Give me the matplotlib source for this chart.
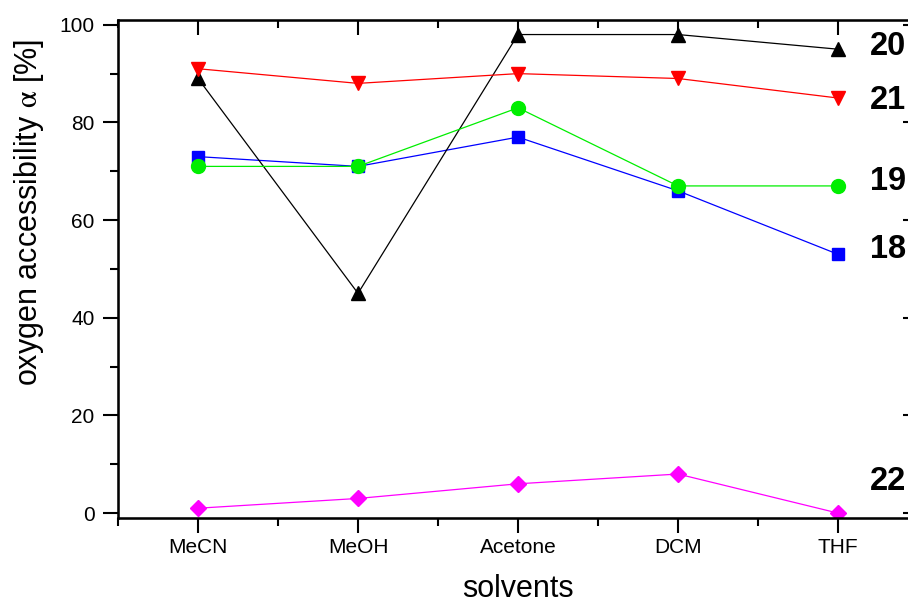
import matplotlib
matplotlib.use("Agg")
import matplotlib.pyplot as plt
from matplotlib.ticker import MultipleLocator

plt.rcParams['font.family'] = ['Liberation Sans', 'DejaVu Sans']
plt.rcParams['mathtext.fontset'] = 'stix'

# -----------------------------
# Data
# -----------------------------
solvents = ["MeCN", "MeOH", "Acetone", "DCM", "THF"]
s18 = [73, 71, 77, 66, 53]
s19 = [71, 71, 83, 67, 67]
s20 = [89, 45, 98, 98, 95]
s21 = [91, 88, 90, 89, 85]
s22 = [1, 3, 6, 8, 0]
names = ["18", "20", "19", "21", "22"]
label_y = [54, 95.5, 68, 84.5, 6.5]

x = list(range(1, len(solvents) + 1))

# -----------------------------
# Plot
# -----------------------------
fig = plt.figure(figsize=(9.08, 6.03), dpi=100)
ax = fig.add_axes([0.130, 0.141, 0.881, 0.826])

series = [
    (s18, "blue", "s", 9),
    (s20, "black", "^", 10),
    (s19, "#00ee00", "o", 10),
    (s21, "red", "v", 10),
    (s22, "magenta", "D", 8),
]
for vals, col, mk, ms in series:
    ax.plot(x, vals, color=col, lw=0.9, marker=mk, ms=ms, mec=col, mfc=col)

for name, yv in zip(names, label_y):
    ax.text(5.2, yv, name, fontsize=23.5, fontweight="bold", va="center", ha="left")

ax.set_xlim(0.5, 5.5)
ax.set_ylim(-1, 101)
ax.set_xticks(x)
ax.set_xticklabels(solvents, fontsize=15)
ax.xaxis.set_minor_locator(MultipleLocator(0.5))
ax.yaxis.set_major_locator(MultipleLocator(20))
ax.yaxis.set_minor_locator(MultipleLocator(10))
ax.tick_params(axis="y", labelsize=15, pad=6)

ax.tick_params(which="major", length=11, width=1.5)
ax.tick_params(which="minor", length=6, width=1.5)
ax.tick_params(axis="x", which="both", direction="out", bottom=True, top=False)
ax.tick_params(axis="y", which="both", direction="out", left=True, right=False)

for sp in ax.spines.values():
    sp.set_linewidth(1.8)

# inward ticks on top and right
axt = ax.twiny()
axt.set_xlim(ax.get_xlim())
axt.set_xticks(x)
axt.xaxis.set_minor_locator(MultipleLocator(0.5))
axt.tick_params(axis="x", which="both", direction="in", labeltop=False, width=1.5)
axt.tick_params(axis="x", which="major", length=11)
axt.tick_params(axis="x", which="minor", length=6)
axr = ax.twinx()
axr.set_ylim(ax.get_ylim())
axr.yaxis.set_major_locator(MultipleLocator(20))
axr.yaxis.set_minor_locator(MultipleLocator(10))
axr.tick_params(axis="y", which="both", direction="in", labelright=False, width=1.5)
axr.tick_params(axis="y", which="major", length=11)
axr.tick_params(axis="y", which="minor", length=6)

ax.set_xlabel("solvents", fontsize=22, labelpad=12)
ax.set_ylabel(r"oxygen accessibility $\mathrm{\alpha}$ [%]", fontsize=22)
ax.yaxis.set_label_coords(-0.09, 0.614)

fig.savefig("out.png", dpi=100)
